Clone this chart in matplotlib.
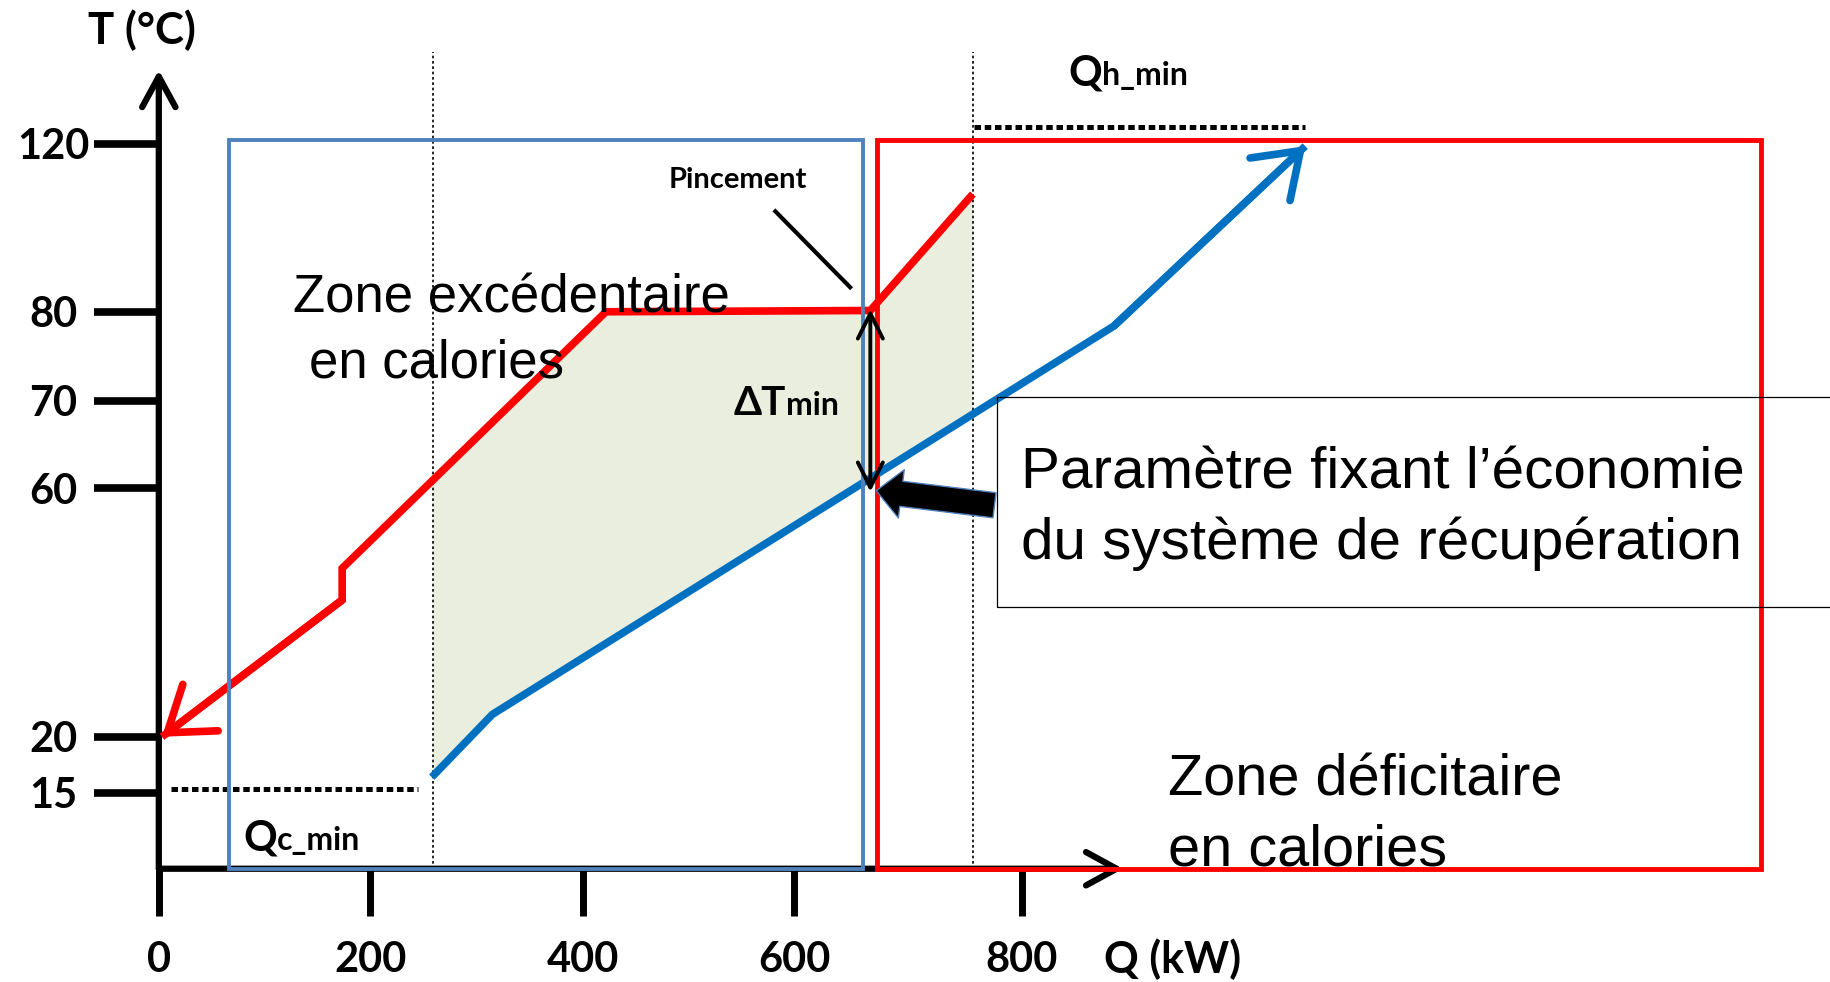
import numpy as np
import matplotlib
matplotlib.use("Agg")
import matplotlib.pyplot as plt
from matplotlib.patches import Rectangle, FancyArrowPatch
from matplotlib.lines import Line2D

plt.rcParams['font.family'] = ['Lato', 'DejaVu Sans']

# --- données du diagramme de pincement ---
# courbe composite chaude (rouge), de l'entrée chaude vers la sortie
hot_q = [757, 667, 422, 173.5, 173.5, 3]
hot_t = [108, 80.3, 80, 47.1, 42.0, 20]
# courbe composite froide (bleue)
cold_q = [258, 315, 881, 1049]
cold_t = [16.4, 23.6, 78.4, 119.4]

q_ticks = [0, 200, 400, 600, 800]
t_ticks = [15, 20, 60, 70, 80, 120]

q_pinch = 667
dt_top, dt_bottom = 80.6, 59.4
q_left, q_right = 259, 757          # limites de la zone d'echange
qc_min = [12, 245]                  # utilite froide
qh_min = [758, 1049]                # utilite chaude
t_qc, t_qh = 15.3, 123.9
blue_zone = [66, 660.5, 0, 120.8]   # q0, q1, t0, t1
red_zone = [672.8, 1449, 0, 120.8]
t_axis_top, q_axis_end, t_dotted_top = 137.5, 889, 141.7

# echelle schematique (non lineaire) : valeur -> pixel de l'image de reference
Q_REF = [0, 200, 400, 600, 800]
PX_REF = [136, 317, 499, 680, 875]
T_REF = [0, 15, 20, 60, 70, 80, 120]
PY_REF = [744, 679, 631, 418, 343, 267, 123]
W, H = 1568, 841


def pw(v, xp, fp):
    v = np.asarray(v, dtype=float)
    xp = np.asarray(xp, float)
    fp = np.asarray(fp, float)
    out = np.interp(v, xp, fp)
    s0 = (fp[1] - fp[0]) / (xp[1] - xp[0])
    s1 = (fp[-1] - fp[-2]) / (xp[-1] - xp[-2])
    out = np.where(v < xp[0], fp[0] + (v - xp[0]) * s0, out)
    out = np.where(v > xp[-1], fp[-1] + (v - xp[-1]) * s1, out)
    return out


fx = lambda v: pw(v, Q_REF, PX_REF)
gx = lambda v: pw(v, PX_REF, Q_REF)
NY = [-p for p in PY_REF]
fy = lambda v: pw(v, T_REF, NY)
gy = lambda v: pw(v, NY, T_REF)


def ref(x, y):
    return (x / W, 1 - y / H)


def t_on(qs, ts, q):
    # interpolation dans l'espace dessine (segments droits a l'ecran)
    xs = fx(qs)
    ys = fy(ts)
    if xs[0] > xs[-1]:
        xs, ys = xs[::-1], ys[::-1]
    return float(gy(np.interp(fx(q), xs, ys)))


fig = plt.figure(figsize=(18.31, 9.82), dpi=100)
ax = fig.add_axes([0, 0, 1, 1])
ax.set_xscale('function', functions=(fx, gx))
ax.set_yscale('function', functions=(fy, gy))
ax.set_xlim(float(gx(0)), float(gx(W)))
ax.set_ylim(float(gy(-H)), float(gy(0)))

for s in ax.spines.values():
    s.set_visible(False)
ax.spines['left'].set_position(('data', 0))
ax.spines['bottom'].set_position(('data', 0))
ax.set_xticks(q_ticks)
ax.set_yticks(t_ticks)
ax.xaxis.set_minor_locator(matplotlib.ticker.NullLocator())
ax.yaxis.set_minor_locator(matplotlib.ticker.NullLocator())
ax.set_xticklabels([str(v) for v in q_ticks])
ax.set_yticklabels([str(v) for v in t_ticks])
ax.tick_params(axis='x', direction='out', length=34, width=5, pad=18, labelsize=30)
ax.tick_params(axis='y', direction='out', length=47, width=5.5, pad=29, labelsize=30)
for lbl in ax.get_xticklabels() + ax.get_yticklabels():
    lbl.set_fontweight('bold')
for lbl in ax.get_yticklabels():
    lbl.set_ha('center')

# zone d'echange (entre les deux courbes)
poly_q = [q_left] + [q for q in sorted(set(hot_q)) if q_left < q < q_right] + [q_right]
poly_t = [t_on(hot_q, hot_t, q) for q in poly_q]
cq = [q for q in sorted(cold_q, reverse=True) if q_left < q < q_right]
poly_q += [q_right] + cq + [q_left]
poly_t += [t_on(cold_q, cold_t, q_right)] + [t_on(cold_q, cold_t, q) for q in cq] + [t_on(cold_q, cold_t, q_left)]
ax.fill(poly_q, poly_t, color='#E9EEDE', lw=0, zorder=1)

# lignes pointillees verticales
for q in (q_left, q_right):
    ax.plot([q, q], [0, t_dotted_top], color='k', lw=1.2, ls=(0, (1.6, 1.6)), zorder=2)

# utilites minimales
ax.plot(qc_min, [t_qc, t_qc], color='k', lw=3.6, ls=(0, (1.3, 0.75)), zorder=2)
ax.plot(qh_min, [t_qh, t_qh], color='k', lw=3.6, ls=(0, (1.3, 0.75)), zorder=2)

# axes avec fleches
ax.annotate('', xy=(0, t_axis_top), xytext=(0, 0),
            arrowprops=dict(arrowstyle='->,head_length=0.55,head_width=0.3', lw=4.5, color='k',
                            mutation_scale=40, shrinkA=0, shrinkB=0), zorder=3)
ax.annotate('', xy=(q_axis_end, 0), xytext=(0, 0),
            arrowprops=dict(arrowstyle='->,head_length=0.55,head_width=0.3', lw=4.5, color='k',
                            mutation_scale=40, shrinkA=0, shrinkB=0), zorder=3)

# courbes composites
ax.plot(hot_q, hot_t, color='#FF0000', lw=5.5, solid_joinstyle='miter', solid_capstyle='butt', zorder=4)
ax.annotate('', xy=(hot_q[-1], hot_t[-1]), xytext=(hot_q[-2], hot_t[-2]),
            arrowprops=dict(arrowstyle='->,head_length=0.6,head_width=0.42', lw=5.5, color='#FF0000',
                            mutation_scale=50, shrinkA=0, shrinkB=0), zorder=4)
ax.plot(cold_q, cold_t, color='#0070C0', lw=5.5, solid_joinstyle='miter', solid_capstyle='butt', zorder=4)
ax.annotate('', xy=(cold_q[-1], cold_t[-1]), xytext=(cold_q[-2], cold_t[-2]),
            arrowprops=dict(arrowstyle='->,head_length=0.6,head_width=0.42', lw=5.5, color='#0070C0',
                            mutation_scale=50, shrinkA=0, shrinkB=0), zorder=4)

# zones excedentaire / deficitaire
q0, q1, t0, t1 = blue_zone
ax.add_patch(Rectangle((q0, t0), q1 - q0, t1 - t0, fill=False, ec='#4F81BD', lw=2.8, zorder=5))
q0, q1, t0, t1 = red_zone
ax.add_patch(Rectangle((q0, t0), q1 - q0, t1 - t0, fill=False, ec='#FF0000', lw=3.5, zorder=5))

# delta T min
ax.annotate('', xy=(q_pinch, dt_bottom), xytext=(q_pinch, dt_top),
            arrowprops=dict(arrowstyle='<->,head_length=0.6,head_width=0.3', lw=2.8, color='k',
                            mutation_scale=30, shrinkA=0, shrinkB=0), zorder=6)

# pincement
ax.add_line(Line2D(*zip(ref(664, 181), ref(728, 246)), transform=ax.transAxes, color='k', lw=3, zorder=6))
ax.text(*ref(573, 161), 'Pincement', transform=ax.transAxes, fontsize=21, fontweight='bold',
        va='baseline', ha='left')

# boite de texte + grosse fleche
ax.add_patch(Rectangle(ref(854, 520), 1.0, 180 / H, transform=ax.transAxes, fill=False,
                       ec='k', lw=0.9, zorder=6))
ax.add_patch(FancyArrowPatch(ref(854, 433), ref(748, 420), transform=ax.transAxes,
                             arrowstyle='simple,head_length=0.65,head_width=1.25,tail_width=0.65',
                             mutation_scale=28, fc='k', ec='#4F81BD', lw=1, zorder=7))
arial = 'Liberation Sans'
ax.text(*ref(874, 418), 'Paramètre fixant l\u2019économie', transform=ax.transAxes,
        fontsize=42, family=arial, va='baseline')
ax.text(*ref(874, 479), 'du système de récupération', transform=ax.transAxes,
        fontsize=42, family=arial, va='baseline')

ax.text(*ref(251, 268), 'Zone excédentaire', transform=ax.transAxes, fontsize=38,
        family=arial, va='baseline', zorder=8)
ax.text(*ref(265, 323), 'en calories', transform=ax.transAxes, fontsize=38,
        family=arial, va='baseline', zorder=8)
ax.text(*ref(1000, 681), 'Zone déficitaire', transform=ax.transAxes, fontsize=41.5,
        family=arial, va='baseline', zorder=8)
ax.text(*ref(1000, 741), 'en calories', transform=ax.transAxes, fontsize=41.5,
        family=arial, va='baseline', zorder=8)

# titres des axes
ax.text(*ref(75, 38), 'T (°C)', transform=ax.transAxes, fontsize=31.5, fontweight='bold', va='baseline')
ax.text(*ref(945, 833), 'Q (kW)', transform=ax.transAxes, fontsize=31, fontweight='bold', va='baseline')

# libelles avec indice
renderer = fig.canvas.get_renderer()


def two_part(x, y, big, small, bsize, ssize):
    t = ax.text(*ref(x, y), big, transform=ax.transAxes, fontsize=bsize, fontweight='bold',
                va='baseline', zorder=8)
    bb = t.get_window_extent(renderer)
    xa = ax.transAxes.inverted().transform((bb.x1, 0))[0]
    ax.text(xa, ref(x, y)[1], small, transform=ax.transAxes, fontsize=ssize, fontweight='bold',
            va='baseline', zorder=8)


two_part(208, 728, 'Q', 'c_min', 30, 23)
two_part(915, 73, 'Q', 'h_min', 30, 23)
two_part(628, 355, 'ΔT', 'min', 29, 23)

fig.savefig('out.png', dpi=100)
